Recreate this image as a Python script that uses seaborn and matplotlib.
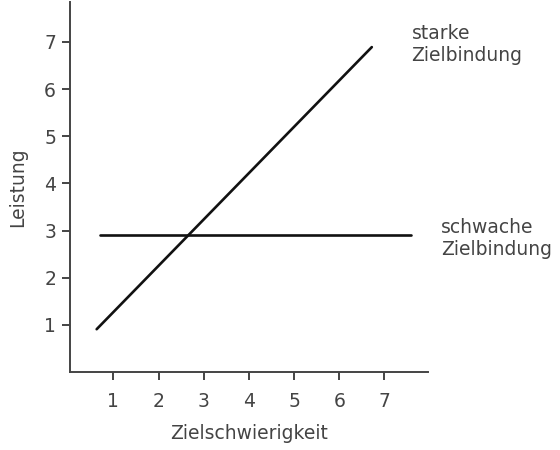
import matplotlib
matplotlib.use("Agg")
import matplotlib.pyplot as plt
import seaborn as sns
import pandas as pd

strong_x = [0.63, 6.72]
strong_y = [0.91, 6.89]
weak_x = [0.70, 7.59]
weak_y = [2.90, 2.90]
x_ticks = [1, 2, 3, 4, 5, 6, 7]
y_ticks = [1, 2, 3, 4, 5, 6, 7]
labels = ["starke\nZielbindung", "schwache\nZielbindung"]

sns.set_theme(style="ticks")
plt.rcParams['font.family'] = ['DejaVu Sans']

df = pd.concat([
    pd.DataFrame({"x": strong_x, "y": strong_y, "s": labels[0]}),
    pd.DataFrame({"x": weak_x, "y": weak_y, "s": labels[1]}),
])

fig = plt.figure(figsize=(5.6, 4.5), dpi=100)
ax = fig.add_axes([0.125, 0.173, 0.639, 0.823])
sns.lineplot(data=df, x="x", y="y", hue="s", palette=["#111111", "#111111"],
             linewidth=1.9, legend=False, ax=ax, estimator=None, sort=False)

ax.set_xlim(0.04, 7.96)
ax.set_ylim(0.0, 7.85)
ax.set_xticks(x_ticks)
ax.set_yticks(y_ticks)
ax.set_xlabel("Zielschwierigkeit", fontsize=13.5, color="#444444", labelpad=10)
ax.set_ylabel("Leistung", fontsize=13.5, color="#444444", labelpad=12)
ax.tick_params(axis="x", pad=8)
ax.tick_params(axis="y", pad=4)
ax.tick_params(axis="both", colors="#444444", labelsize=13.5, width=1.4, length=6)
for side in ["top", "right"]:
    ax.spines[side].set_visible(False)
for side in ["left", "bottom"]:
    ax.spines[side].set_color("#444444")
    ax.spines[side].set_linewidth(1.4)

ax.text(7.6, 6.95, labels[0], fontsize=13.5, color="#444444", va="center",
        ha="left", clip_on=False, linespacing=1.2)
ax.text(8.26, 2.84, labels[1], fontsize=13.5, color="#444444", va="center",
        ha="left", clip_on=False, linespacing=1.2)

fig.savefig("out.png", dpi=100)
